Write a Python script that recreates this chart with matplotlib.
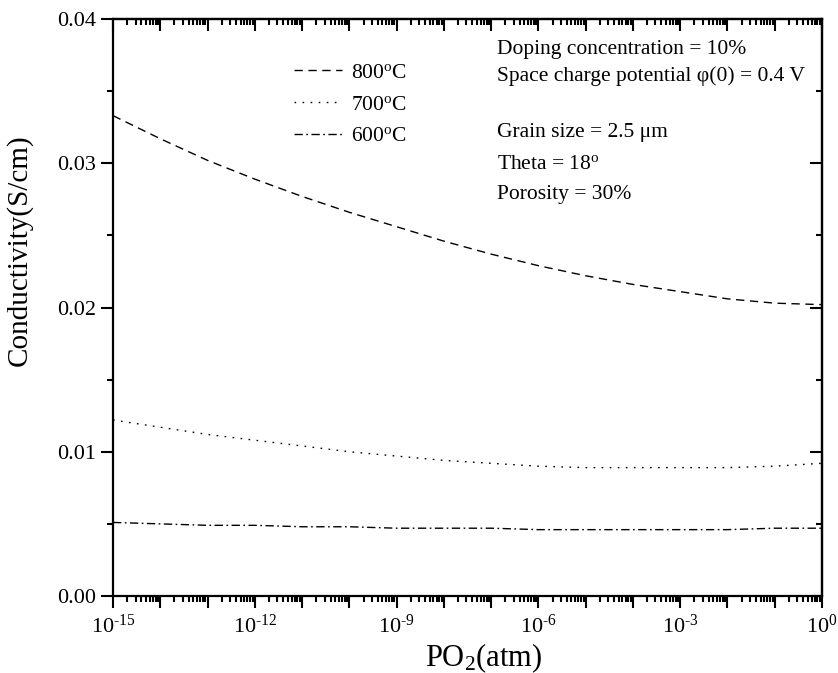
import matplotlib
matplotlib.use('Agg')
import matplotlib.pyplot as plt
from matplotlib.ticker import LogLocator, FuncFormatter, MultipleLocator, NullFormatter
import numpy as np

plt.rcParams['font.family'] = 'Liberation Serif'
plt.rcParams['mathtext.fontset'] = 'custom'
plt.rcParams['mathtext.rm'] = 'Liberation Serif'
plt.rcParams['mathtext.it'] = 'Liberation Serif:italic'

# oxygen partial pressure, log10(atm)
log_po2 = [-15, -14, -13, -12, -11, -10, -9, -8, -7, -6, -5, -4, -3, -2, -1, 0]

# conductivity (S/cm)
sigma_800 = [0.0333, 0.0317, 0.0302, 0.0289, 0.0277, 0.0266, 0.0256, 0.0246,
             0.0237, 0.0229, 0.0222, 0.0216, 0.0211, 0.0206, 0.0203, 0.0202]
sigma_700 = [0.0122, 0.0117, 0.0112, 0.0108, 0.0104, 0.0100, 0.0097, 0.0094,
             0.0092, 0.0090, 0.0089, 0.0089, 0.0089, 0.0089, 0.0090, 0.0092]
sigma_600 = [0.0051, 0.0050, 0.0049, 0.0049, 0.0048, 0.0048, 0.0047, 0.0047,
             0.0047, 0.0046, 0.0046, 0.0046, 0.0046, 0.0046, 0.0047, 0.0047]

labels = [r'800$^{\mathrm{o}}$C', r'700$^{\mathrm{o}}$C', r'600$^{\mathrm{o}}$C']

notes = ['Doping concentration = 10%',
         'Space charge potential \u03c6(0) = 0.4 V',
         'Grain size = 2.5 \u03bcm',
         r'Theta = 18$^{\mathrm{o}}$',
         'Porosity = 30%']

po2 = 10.0 ** np.array(log_po2)

fig = plt.figure(figsize=(8.38, 6.73), dpi=100)
ax = fig.add_axes([113/838, 77/673, 709/838, 577/673])

ax.plot(po2, sigma_800, color='black', lw=1.0, dashes=(6, 4), label=labels[0])
ax.plot(po2, sigma_700, color='black', lw=1.0, dashes=(1.2, 4.6), label=labels[1])
ax.plot(po2, sigma_600, color='black', lw=1.0, dashes=(6, 2.5, 1.2, 2.5), label=labels[2])

ax.set_xscale('log')
ax.set_xlim(1e-15, 1)
ax.set_ylim(0, 0.04)


def decade_label(v, pos):
    e = int(round(np.log10(v)))
    if e % 3:
        return ''
    return r'$\mathregular{10^{\text{%d}}}$' % e


ax.xaxis.set_major_locator(LogLocator(base=10, numticks=30))
ax.xaxis.set_minor_locator(LogLocator(base=10, subs=np.arange(2, 10), numticks=30))
ax.xaxis.set_major_formatter(FuncFormatter(decade_label))
ax.xaxis.set_minor_formatter(NullFormatter())
ax.yaxis.set_major_locator(MultipleLocator(0.01))
ax.yaxis.set_minor_locator(MultipleLocator(0.005))
ax.yaxis.set_major_formatter(FuncFormatter(lambda v, p: '%.2f' % v))

for s in ax.spines.values():
    s.set_linewidth(1.6)

ax.tick_params(which='both', direction='out', width=1.5, labelsize=16,
               top=False, right=False)
ax.tick_params(which='major', length=8.5)
ax.tick_params(which='minor', length=4.5)
ax.tick_params(axis='x', pad=5)

# top and right ticks point inward
top = ax.secondary_xaxis('top')
top.xaxis.set_major_locator(LogLocator(base=10, numticks=30))
top.xaxis.set_minor_locator(LogLocator(base=10, subs=np.arange(2, 10), numticks=30))
top.xaxis.set_major_formatter(NullFormatter())
top.xaxis.set_minor_formatter(NullFormatter())
top.tick_params(which='both', direction='in', width=1.5)
top.tick_params(which='major', length=8.5)
top.tick_params(which='minor', length=4.5)
top.spines['top'].set_linewidth(1.6)

right = ax.secondary_yaxis('right')
right.yaxis.set_major_locator(MultipleLocator(0.01))
right.yaxis.set_minor_locator(MultipleLocator(0.005))
right.yaxis.set_major_formatter(NullFormatter())
right.tick_params(which='both', direction='in', width=1.5)
right.tick_params(which='major', length=8.5)
right.tick_params(which='minor', length=4.5)
right.spines['right'].set_linewidth(1.6)

ax.set_xlabel(r'PO$_2$(atm)', fontsize=22)
ax.xaxis.set_label_coords(0.523, -0.078)
ax.set_ylabel('Conductivity(S/cm)', fontsize=21)
ax.yaxis.set_label_coords(-0.113, 0.6)

ax.legend(loc='upper left', bbox_to_anchor=(0.228, 0.958), frameon=False,
          fontsize=15.5, handlelength=2.23, handletextpad=0.42, labelspacing=0.55)

note_y = [0.939, 0.893, 0.795, 0.740, 0.688]
for txt, y in zip(notes, note_y):
    ax.text(0.541, y, txt, transform=ax.transAxes, fontsize=15.5,
            ha='left', va='baseline')

fig.savefig('out.png', dpi=100)
